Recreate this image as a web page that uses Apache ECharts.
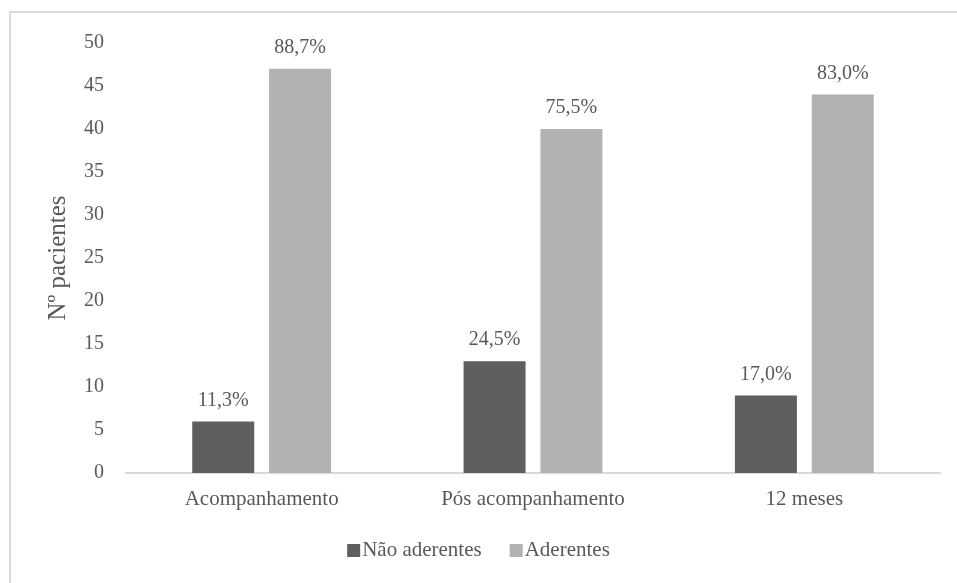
<!DOCTYPE html>
<html>
<head>
<meta charset="utf-8">
<script src="https://cdn.jsdelivr.net/npm/echarts@6/dist/echarts.min.js"></script>
<style>
html,body{margin:0;padding:0;background:#fff;}
#main{width:957px;height:583px;}
</style>
</head>
<body>
<div id="main"></div>
<script>
// categorias e valores
let categorias = ["Acompanhamento", "Pós acompanhamento", "12 meses"];
let naoAderentes = [6, 13, 9];
let aderentes = [47, 40, 44];
let pctNao = ["11,3%", "24,5%", "17,0%"];
let pctAder = ["88,7%", "75,5%", "83,0%"];
let yTicks = [0, 50, 5];

let chart = echarts.init(document.getElementById("main"));
let fonte = "'Liberation Serif', 'Times New Roman', serif";
let corTexto = "#595959";

let option = {
    animation: false,
    textStyle: {fontFamily: fonte},
    graphic: [{
        type: 'rect',
        shape: {x: 10, y: 12, width: 1200, height: 1200},
        style: {fill: 'none', stroke: '#d9d9d9', lineWidth: 2},
        silent: true
    }],
    grid: {left: 126, right: 17, top: 43, bottom: 110},
    legend: {
        bottom: 17,
        left: 'center',
        itemWidth: 13,
        itemHeight: 13,
        itemGap: 28,
        icon: 'rect',
        textStyle: {fontFamily: fonte, fontSize: 21, color: corTexto, padding: [0, 0, 0, -3]},
        data: ["Não aderentes", "Aderentes"]
    },
    xAxis: {
        type: 'category',
        data: categorias,
        axisLine: {lineStyle: {color: '#d9d9d9', width: 2}},
        axisTick: {show: false},
        axisLabel: {fontFamily: fonte, fontSize: 21, color: corTexto, margin: 16}
    },
    yAxis: {
        type: 'value',
        min: yTicks[0],
        max: yTicks[1],
        interval: yTicks[2],
        name: "Nº pacientes",
        nameLocation: 'middle',
        nameGap: 55,
        nameTextStyle: {fontFamily: fonte, fontSize: 25, color: corTexto},
        axisLine: {show: false},
        axisTick: {show: false},
        splitLine: {show: false},
        axisLabel: {fontFamily: fonte, fontSize: 20, color: corTexto, margin: 22}
    },
    series: [
        {
            name: "Não aderentes",
            type: 'bar',
            data: naoAderentes,
            barWidth: 62,
            barGap: '24%',
            itemStyle: {color: '#5f5f5f'},
            label: {
                show: true, position: 'top', distance: 11,
                fontFamily: fonte, fontSize: 20, color: corTexto,
                formatter: p => pctNao[p.dataIndex]
            }
        },
        {
            name: "Aderentes",
            type: 'bar',
            data: aderentes,
            barWidth: 62,
            itemStyle: {color: '#b2b2b2'},
            label: {
                show: true, position: 'top', distance: 11,
                fontFamily: fonte, fontSize: 20, color: corTexto,
                formatter: p => pctAder[p.dataIndex]
            }
        }
    ]
};
chart.setOption(option);
</script>
</body>
</html>
